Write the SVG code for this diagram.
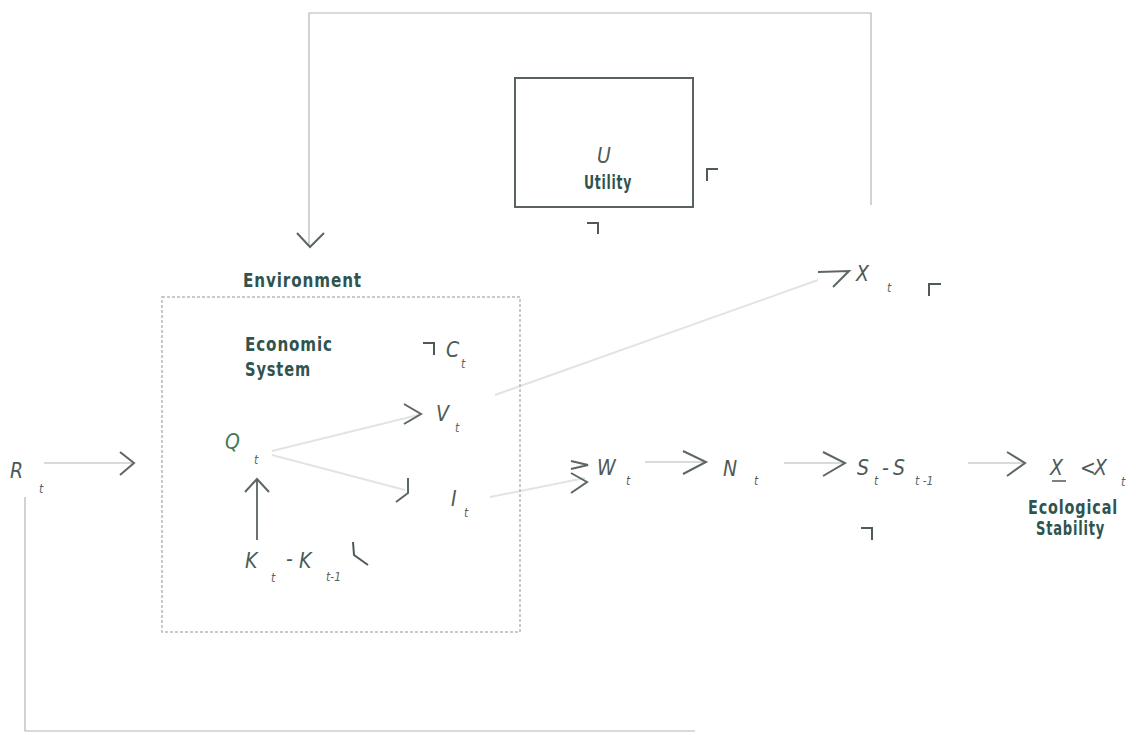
<svg xmlns="http://www.w3.org/2000/svg" width="1146" height="735" viewBox="0 0 1146 735">
<style>
.bg{fill:#ffffff}
.lbl{font-family:"DejaVu Sans Condensed","Liberation Sans",sans-serif;font-stretch:condensed;font-weight:bold;font-size:19px;fill:#2f5450;letter-spacing:1px}
.var{font-family:"DejaVu Sans Condensed","Liberation Sans",sans-serif;font-stretch:condensed;font-style:italic;font-size:21px;fill:#4d5a57}
.sub{font-family:"DejaVu Sans Condensed","Liberation Sans",sans-serif;font-stretch:condensed;font-style:italic;font-size:12px;fill:#5a6562}
.ln{fill:none;stroke:#b3b7b5;stroke-width:1.2}
.faint{fill:none;stroke:#e2e4e3;stroke-width:2}
.head{fill:none;stroke:#5c6663;stroke-width:2;stroke-linejoin:miter}
.mark{fill:none;stroke:#4f5a57;stroke-width:2}
.dash{fill:none;stroke:#b5b9b7;stroke-width:1.5;stroke-dasharray:3 2}
</style>
<rect class="bg" x="0" y="0" width="1146" height="735"/>

<g id="connectors">
  <polyline class="ln" points="871,205 871,13 309,13 309,245"/>
  <polyline class="head" points="297,233 310,247 324,233"/>
  <polyline class="ln" points="695,731 25,731 25,497"/>
  <line class="ln" x1="44" y1="463" x2="132" y2="463"/>
  <polyline class="head" points="120,452 134,463 120,475"/>
  <line class="faint" x1="272" y1="451" x2="418" y2="415"/>
  <polyline class="head" points="404,404 421,414 404,424"/>
  <line class="faint" x1="272" y1="455" x2="405" y2="490"/>
  <polyline class="head" points="408,478 408,493 396,502"/>
  <line x1="257" y1="540" x2="257" y2="479" stroke="#6b7370" stroke-width="2"/>
  <polyline class="head" points="245,492 257,479 269,492"/>
  <line class="faint" x1="495" y1="395" x2="818" y2="280"/>
  <polyline class="head" points="818,272 849,271 833,287"/>
  <line class="faint" x1="490" y1="497" x2="585" y2="478"/>
  <polyline class="head" points="571,461 588,465 571,469"/>
  <polyline class="head" points="571,473 587,482 571,493"/>
  <line class="ln" x1="645" y1="462" x2="704" y2="462"/>
  <polyline class="head" points="683,451 706,462 683,474"/>
  <line class="ln" x1="784" y1="463" x2="843" y2="463"/>
  <polyline class="head" points="823,452 845,463 823,476"/>
  <line class="ln" x1="968" y1="463" x2="1023" y2="463"/>
  <polyline class="head" points="1007,452 1025,463 1007,476"/>
</g>

<g id="utility">
  <rect x="515" y="78" width="178" height="129" fill="none" stroke="#5a625f" stroke-width="2"/>
  <text class="var" x="597" y="163">U</text>
  <text class="lbl" x="584" y="189" textLength="48" lengthAdjust="spacingAndGlyphs">Utility</text>
  <polyline class="mark" points="707,181 707,169 718,169"/>
  <polyline class="mark" points="587,223 598,223 598,234"/>
</g>

<g id="environment">
  <text class="lbl" x="243" y="287" textLength="119" lengthAdjust="spacingAndGlyphs">Environment</text>
  <rect class="dash" x="162" y="297" width="358" height="335"/>
</g>

<g id="economic-system">
  <text class="lbl" x="245" y="351" textLength="88" lengthAdjust="spacingAndGlyphs">Economic</text>
  <text class="lbl" x="245" y="376" textLength="66" lengthAdjust="spacingAndGlyphs">System</text>
</g>

<g id="C">
  <polyline class="mark" points="423,343 434,343 434,355"/>
  <text class="var" x="446" y="357">C</text>
  <text class="sub" x="461" y="368">t</text>
</g>

<g id="V">
  <text class="var" x="436" y="421">V</text>
  <text class="sub" x="455" y="432">t</text>
</g>

<g id="Q">
  <text class="var" x="225" y="449" style="fill:#3f7a55">Q</text>
  <text class="sub" x="254" y="464">t</text>
</g>

<g id="I">
  <text class="var" x="451" y="506">I</text>
  <text class="sub" x="464" y="517">t</text>
</g>

<g id="K">
  <text class="var" x="245" y="568">K</text>
  <text class="sub" x="271" y="582">t</text>
  <text class="var" x="286" y="566">-</text>
  <text class="var" x="299" y="568">K</text>
  <text class="sub" x="326" y="581">t-1</text>
  <polyline class="mark" points="353,542 354,555 368,565"/>
</g>

<g id="R">
  <text class="var" x="10" y="478">R</text>
  <text class="sub" x="39" y="493">t</text>
</g>

<g id="X">
  <text class="var" x="856" y="281">X</text>
  <text class="sub" x="887" y="292">t</text>
  <polyline class="mark" points="929,296 929,284 941,284"/>
</g>

<g id="W">
  <text class="var" x="597" y="475">W</text>
  <text class="sub" x="626" y="485">t</text>
</g>

<g id="N">
  <text class="var" x="723" y="476">N</text>
  <text class="sub" x="754" y="485">t</text>
</g>

<g id="S">
  <text class="var" x="857" y="475">S</text>
  <text class="sub" x="874" y="485">t</text>
  <text class="var" x="882" y="475">-</text>
  <text class="var" x="893" y="475">S</text>
  <text class="sub" x="915" y="485">t -1</text>
  <polyline class="mark" points="861,528 872,528 872,540"/>
</g>

<g id="ecological-stability">
  <text class="var" x="1050" y="475">X</text>
  <line x1="1052" y1="481" x2="1066" y2="481" stroke="#4d5a57" stroke-width="1.5"/>
  <text class="var" x="1080" y="475">&lt;</text>
  <text class="var" x="1094" y="475">X</text>
  <text class="sub" x="1121" y="486">t</text>
  <text class="lbl" x="1028" y="514" textLength="90" lengthAdjust="spacingAndGlyphs">Ecological</text>
  <text class="lbl" x="1036" y="535" textLength="69" lengthAdjust="spacingAndGlyphs">Stability</text>
</g>
</svg>
